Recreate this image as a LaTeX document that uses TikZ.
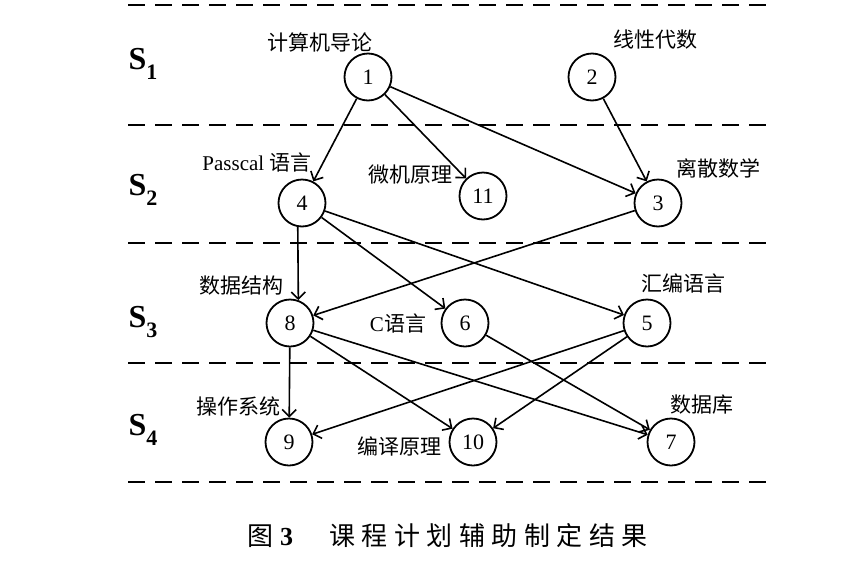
\documentclass[tikz,border=0pt]{standalone}
\usepackage{fontspec}
\setmainfont{Liberation Serif}
\newfontfamily\cjk{Noto Sans CJK SC}
\newfontfamily\capcjk[LetterSpace=25]{Noto Sans CJK SC}
\usetikzlibrary{arrows.meta}
\begin{document}
\begin{tikzpicture}[x=1pt,y=-1pt,
  vtx/.style={circle,draw,line width=1.8pt,minimum size=47pt,inner sep=0pt,font=\fontsize{22}{22}\selectfont},
  lbl/.style={inner sep=0pt,font=\fontsize{21}{21}\selectfont\cjk},
  lvl/.style={inner sep=0pt,font=\fontsize{32}{32}\selectfont\bfseries},
  sep/.style={line width=1.8pt,dash pattern=on 17pt off 10pt},
  arr/.style={line width=1.6pt,-{Straight Barb[length=7pt,width=14pt,line width=1.6pt]}}]
\useasboundingbox (0,0) rectangle (855,571);
% separators
\foreach \yy/\nm in {5/a,125/b,243/c,363/d,482/e}{
  \coordinate (L\nm) at (128,\yy);
  \coordinate (R\nm) at (768,\yy);
  \draw[sep] (L\nm) -- (R\nm);
}
% level labels
\node[lvl] (s1) at (143,64) {S\raisebox{-0.3em}{\fontsize{22}{22}\selectfont 1}};
\node[lvl] (s2) at (143,190) {S\raisebox{-0.3em}{\fontsize{22}{22}\selectfont 2}};
\node[lvl] (s3) at (143,322) {S\raisebox{-0.3em}{\fontsize{22}{22}\selectfont 3}};
\node[lvl] (s4) at (143,430) {S\raisebox{-0.3em}{\fontsize{22}{22}\selectfont 4}};
% vertices
\node[vtx] (n1) at (368,77) {1};
\node[vtx] (n2) at (592,77) {2};
\node[vtx] (n4) at (302,203) {4};
\node[vtx] (n11) at (483,196) {11};
\node[vtx] (n3) at (658,203) {3};
\node[vtx] (n8) at (290,323) {8};
\node[vtx] (n6) at (465,323) {6};
\node[vtx] (n5) at (647,323) {5};
\node[vtx] (n9) at (289,442) {9};
\node[vtx] (n10) at (473,442) {10};
\node[vtx] (n7) at (671,442) {7};
% labels
\node[lbl] (t1) at (320,42) {计算机导论};
\node[lbl] (t2) at (655,40) {线性代数};
\node[lbl] (t4) at (257,162) {\rmfamily Passcal\ \cjk 语言};
\node[lbl] (t11) at (410,175) {微机原理};
\node[lbl] (t3) at (718,168) {离散数学};
\node[lbl] (t8) at (241,286) {数据结构};
\node[lbl] (t6) at (398,323) {\rmfamily C\cjk 语言};
\node[lbl] (t5) at (683,283) {汇编语言};
\node[lbl] (t9) at (238,406) {操作系统};
\node[lbl] (t10) at (399,446) {编译原理};
\node[lbl] (t7) at (702,405) {数据库};
% edges
\draw[arr] (n1) -- (n4);
\draw[arr] (n1) -- (n11);
\draw[arr] (n1) -- (n3);
\draw[arr] (n2) -- (n3);
\draw[arr] (n4.-100) -- (n8.70);
\draw[arr] (n4) -- (n6);
\draw[arr] (n4) -- (n5);
\draw[arr] (n3) -- (n8);
\draw[arr] (n8) -- (n9);
\draw[arr] (n8) -- (n10);
\draw[arr] (n8) -- (n7);
\draw[arr] (n6) -- (n7);
\draw[arr] (n5) -- (n9);
\draw[arr] (n5) -- (n10);
% caption
\node[inner sep=0pt,anchor=west] (cap) at (247,536) {\fontsize{26}{26}\selectfont{\cjk 图}\hspace{7pt}\textbf{3}\hspace{36pt}\capcjk 课程计划辅助制定结果};
\end{tikzpicture}
\end{document}
